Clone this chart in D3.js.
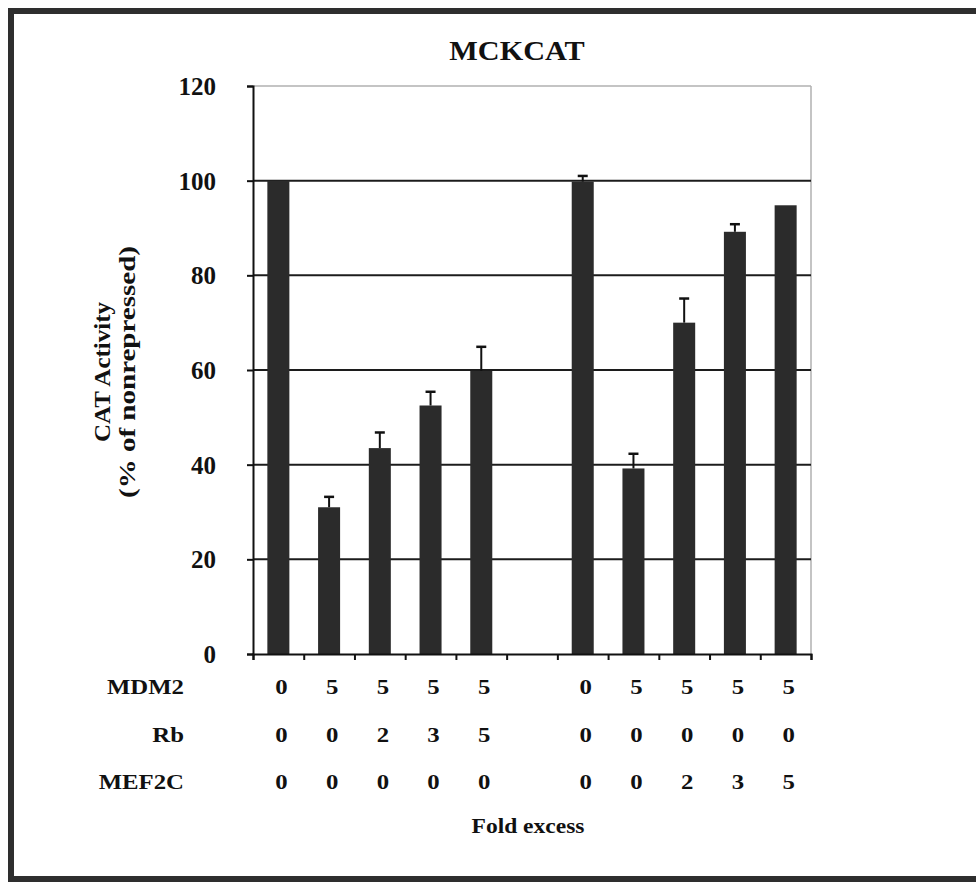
<!DOCTYPE html>
<html>
<head>
<meta charset="utf-8">
<script src="https://cdn.jsdelivr.net/npm/d3@7"></script>
<style>
  html, body { margin: 0; padding: 0; background: #fff; }
  svg { display: block; }
  text { font-family: "Liberation Serif", "Times New Roman", serif; font-weight: bold; fill: #111; }
</style>
</head>
<body>
<svg id="chart" width="976" height="882"></svg>
<script>
// ---- data ----
const slots = ["a1", "a2", "a3", "a4", "a5", "gap", "b1", "b2", "b3", "b4", "b5"];
const activity = [100, 31, 43.5, 52.5, 59.8, null, 99.8, 39.2, 70, 89.2, 94.8];
const errors = [0, 2.2, 3.3, 2.9, 5.1, null, 1.2, 3.1, 5.1, 1.6, 0];
const mdm2 = ["0", "5", "5", "5", "5", "", "0", "5", "5", "5", "5"];
const rb = ["0", "0", "2", "3", "5", "", "0", "0", "0", "0", "0"];
const mef2c = ["0", "0", "0", "0", "0", "", "0", "0", "2", "3", "5"];
const rowLabels = ["MDM2", "Rb", "MEF2C"];
const yTicks = [0, 20, 40, 60, 80, 100, 120];
const titleText = "MCKCAT";
const yTitle1 = "CAT Activity";
const yTitle2 = "(% of nonrepressed)";
const xTitle = "Fold excess";

// ---- layout ----
const svg = d3.select("#chart");
const X0 = 253, X1 = 811, Y0 = 654, Y1 = 86;

const x = d3.scaleBand().domain(slots).range([X0, X1]).paddingInner(0.566).paddingOuter(0.283);
const xb = d3.scaleLinear().domain([0, slots.length]).range([X0, X1]);
const y = d3.scaleLinear().domain([0, 120]).range([Y0, Y1]);

// outer frame
svg.append("rect").attr("x", 11).attr("y", 11).attr("width", 1000).attr("height", 868)
  .attr("fill", "none").attr("stroke", "#2e2e2e").attr("stroke-width", 6);

// helper for horizontally stretched text
function hText(px, py, str, size, anchor, sx) {
  return svg.append("text")
    .attr("transform", `translate(${px},${py}) scale(${sx},1)`)
    .attr("text-anchor", anchor)
    .style("font-size", size + "px")
    .text(str);
}

// title
hText(517, 60, titleText, 27, "middle", 1.12);

// plot frame (light grey top/right)
svg.append("line").attr("x1", X0).attr("x2", X1).attr("y1", y(120)).attr("y2", y(120))
  .attr("stroke", "#b0b0b0").attr("stroke-width", 1.5);
svg.append("line").attr("x1", X1).attr("x2", X1).attr("y1", y(120)).attr("y2", Y0)
  .attr("stroke", "#b0b0b0").attr("stroke-width", 1.5);

// gridlines
svg.append("g").selectAll("line").data(yTicks.filter(t => t > 0 && t < 120)).join("line")
  .attr("x1", X0).attr("x2", X1).attr("y1", d => y(d)).attr("y2", d => y(d))
  .attr("stroke", "#1c1c1c").attr("stroke-width", 2);

// bars
const barData = slots.map((s, i) => ({ s, v: activity[i], e: errors[i] })).filter(d => d.v != null);
svg.append("g").selectAll("rect").data(barData).join("rect")
  .attr("x", d => x(d.s)).attr("width", x.bandwidth())
  .attr("y", d => y(d.v)).attr("height", d => Y0 - y(d.v))
  .attr("fill", "#2b2b2b");

// error bars
const errData = barData.filter(d => d.e > 0);
const eg = svg.append("g").attr("stroke", "#111").attr("stroke-width", 2);
eg.selectAll(".ev").data(errData).join("line").attr("class", "ev")
  .attr("x1", d => x(d.s) + x.bandwidth() / 2).attr("x2", d => x(d.s) + x.bandwidth() / 2)
  .attr("y1", d => y(d.v)).attr("y2", d => y(d.v + d.e));
eg.selectAll(".ec").data(errData).join("line").attr("class", "ec")
  .attr("x1", d => x(d.s) + x.bandwidth() / 2 - 5).attr("x2", d => x(d.s) + x.bandwidth() / 2 + 5)
  .attr("y1", d => y(d.v + d.e)).attr("y2", d => y(d.v + d.e))
  .attr("stroke-width", 2.5);

// y axis
const yAxis = svg.append("g").attr("transform", `translate(${X0},0)`)
  .call(d3.axisLeft(y).tickValues(yTicks).tickSize(6).tickPadding(31).tickFormat(d3.format("d")));
yAxis.select(".domain").attr("stroke", "#111").attr("stroke-width", 2);
yAxis.selectAll(".tick line").attr("stroke", "#111").attr("stroke-width", 2);
yAxis.selectAll(".tick text").style("font-size", "25px").style("font-family", "Liberation Serif, serif")
  .style("font-weight", "bold").attr("fill", "#111").attr("dy", "0.34em");

// x axis (slot boundary ticks)
const xAxis = svg.append("g").attr("transform", `translate(0,${Y0})`)
  .call(d3.axisBottom(xb).tickValues(d3.range(slots.length + 1)).tickSize(6).tickFormat(""));
xAxis.select(".domain").attr("stroke", "#111").attr("stroke-width", 2);
xAxis.selectAll(".tick line").attr("stroke", "#111").attr("stroke-width", 2);

// y title (rotated)
svg.append("text").attr("transform", "translate(110,372) rotate(-90)")
  .attr("text-anchor", "middle").style("font-size", "24px")
  .attr("textLength", 140).attr("lengthAdjust", "spacingAndGlyphs").text(yTitle1);
svg.append("text").attr("transform", "translate(135,372) rotate(-90)")
  .attr("text-anchor", "middle").style("font-size", "24px")
  .attr("textLength", 252).attr("lengthAdjust", "spacingAndGlyphs").text(yTitle2);

// table rows
const rows = [mdm2, rb, mef2c];
const rowY = [694, 742, 789];
rows.forEach((vals, r) => {
  hText(184, rowY[r], rowLabels[r], 21, "end", 1.18);
  slots.forEach((s, i) => {
    if (vals[i] !== "") hText(x(s) + x.bandwidth() / 2 + 3, rowY[r], vals[i], 21, "middle", 1.18);
  });
});

// x title
hText(528, 833, xTitle, 21, "middle", 1.12);
</script>
</body>
</html>
